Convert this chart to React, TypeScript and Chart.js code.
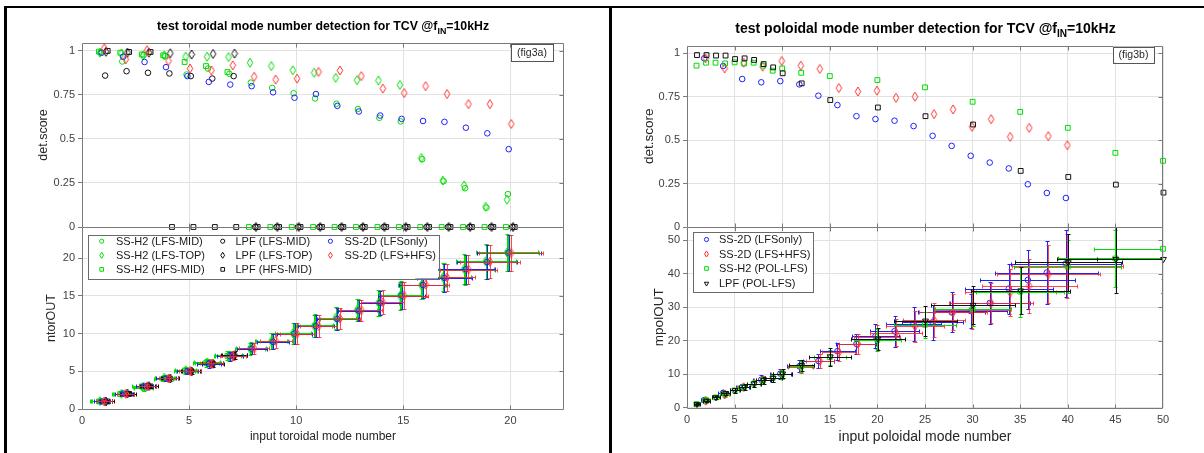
import React, { useEffect, useRef } from "react";
import { Chart, registerables } from "chart.js";

Chart.register(...registerables);

const FONT = '"Liberation Sans", Arial, Helvetica, sans-serif';
const GREEN = "#00dd00";
const BLUE = "#1f1fff";
const RED = "#ff3030";
const BLACK = "#111111";
const GRID = "#e2e2e2";
const AXIS = "#7a7a7a";
const TICKTXT = "#404040";

// ================= fig3a : toroidal =================
const torTitleMain = "test toroidal mode number detection for TCV @f";
const torTitleSub = "IN";
const torTitleTail = "=10kHz";
const torTag = "(fig3a)";
const torXLabel = "input toroidal mode number";
const torYLabelTop = "det.score";
const torYLabelBottom = "ntorOUT";

const torModes = [1, 2, 3, 4, 5, 6, 7, 8, 9, 10, 11, 12, 13, 14, 15, 16, 17, 18, 19, 20];
const torXTicks = [0, 5, 10, 15, 20];
const scoreTicks = [0, 0.25, 0.5, 0.75, 1];
const ntorTicks = [0, 5, 10, 15, 20];

// detection score
const torScoreSSH2LfsMid = [0.99, 0.94, 0.975, 0.97, 0.866, 0.9, 0.87, 0.82, 0.79, 0.76, 0.73, 0.7, 0.67, 0.62, 0.6, 0.385, 0.26, 0.22, 0.11, 0.187];
const torScoreSSH2LfsTop = [0.99, 0.985, 0.975, 0.975, 0.967, 0.967, 0.965, 0.933, 0.914, 0.89, 0.876, 0.847, 0.834, 0.832, 0.807, 0.392, 0.264, 0.235, 0.115, 0.155];
const torScoreSSH2HfsMid = [0.996, 0.99, 0.98, 0.975, 0.937, 0.914, 0.88, 0, 0, 0, 0, 0, 0, 0, 0, 0, 0, 0, 0, 0];
const torScoreLpfLfsMid = [0.86, 0.885, 0.876, 0.872, 0.857, 0.843, 0.857, 0, 0, 0, 0, 0, 0, 0, 0, 0, 0, 0, 0, 0];
const torScoreLpfLfsTop = [0.995, 0.99, 0.99, 0.987, 0.98, 0.983, 0.985, 0, 0, 0, 0, 0, 0, 0, 0, 0, 0, 0, 0, 0];
const torScoreLpfHfsMid = [1.0, 0.994, 0.994, 0, 0, 0, 0, 0, 0, 0, 0, 0, 0, 0, 0, 0, 0, 0, 0, 0];
const torScoreSS2DLfs = [0.99, 0.967, 0.937, 0.908, 0.857, 0.824, 0.809, 0.8, 0.765, 0.734, 0.755, 0.688, 0.656, 0.633, 0.614, 0.602, 0.597, 0.564, 0.532, 0.442];
const torScoreSS2DLfsHfs = [1.015, 0.952, 1.004, 0.943, 0.9, 0.889, 0.918, 0.853, 0.837, 0.843, 0.881, 0.889, 0.857, 0.786, 0.761, 0.8, 0.755, 0.698, 0.698, 0.585];

// detected ntor (null = not detected)
const torOutSSH2LfsMid = [1.0, 2.05, 2.75, 4.1, 5.1, 6.15, 7.0, 8.05, 9.0, 10.0, 11.1, 12.0, 13.1, 14.05, 15.1, 16.5, 17.45, 18.5, 19.55, 20.7];
const torOutSSH2LfsTop = [1.05, 2.0, 2.95, 4.15, 5.15, 6.2, 7.1, 8.0, 9.0, 10.05, 11.0, 12.1, 13.15, 14.1, 15.0, 16.4, 17.5, 18.6, 19.6, 20.8];
const torOutSSH2HfsMid = [1.0, 2.0, 3.0, 4.0, 5.1, 6.1, 7.05, null, null, null, null, null, null, null, null, null, null, null, null, null];
const torOutLpfLfsMid = [1.0, 2.0, 3.05, 4.05, 5.05, 6.05, 7.1, null, null, null, null, null, null, null, null, null, null, null, null, null];
const torOutLpfLfsTop = [1.0, 2.05, 3.05, 4.05, 5.0, 6.0, 7.15, null, null, null, null, null, null, null, null, null, null, null, null, null];
const torOutLpfHfsMid = [1.0, 2.0, 3.0, null, null, null, null, null, null, null, null, null, null, null, null, null, null, null, null, null];
const torOutSS2DLfs = [1.0, 2.05, 3.05, 4.05, 5.0, 6.0, 7.0, 8.0, 8.9, 10.0, 11.0, 11.95, 13.05, 14.1, 15.05, 16.45, 17.4, 18.55, 19.5, 20.75];
const torOutSS2DLfsHfs = [1.0, 2.0, 3.0, 4.05, 5.05, 6.05, 7.05, 8.05, 9.05, 10.0, 11.0, 12.0, 13.1, 14.15, 15.05, 16.5, 17.45, 18.5, 19.55, 20.7];

// error bar half widths
const torXErrSSH2 = [0.4, 0.4, 0.45, 0.45, 0.5, 0.6, 0.65, 0.7, 0.75, 0.85, 0.85, 0.95, 0.95, 0.95, 1.0, 1.1, 1.3, 1.4, 1.4, 1.45];
const torYErrSSH2 = [0.2, 0.25, 0.35, 0.35, 0.4, 0.5, 0.6, 0.8, 1.1, 1.4, 1.5, 1.5, 1.45, 1.7, 1.85, 1.85, 1.9, 2.0, 2.3, 2.45];
const torXErrLpf = [0.3, 0.3, 0.35, 0.4, 0.45, 0.5, 0.6];
const torYErrLpf = [0.15, 0.2, 0.25, 0.3, 0.35, 0.4, 0.5];
const torXErrSS2D = [0.35, 0.4, 0.4, 0.45, 0.5, 0.55, 0.6, 0.7, 0.75, 0.8, 0.85, 0.95, 0.95, 1.0, 1.1, 1.1, 1.3, 1.35, 1.4, 1.5];
const torYErrSS2D = [0.2, 0.25, 0.3, 0.35, 0.4, 0.5, 0.6, 0.75, 1.0, 1.35, 1.45, 1.45, 1.4, 1.6, 1.75, 1.7, 1.85, 1.95, 2.2, 2.4];

// ================= fig3b : poloidal =================
const polTitleMain = "test poloidal mode number detection for TCV @f";
const polTitleSub = "IN";
const polTitleTail = "=10kHz";
const polTag = "(fig3b)";
const polXLabel = "input poloidal mode number";
const polYLabelTop = "det.score";
const polYLabelBottom = "mpolOUT";

const polModesEven = [2, 4, 6, 8, 10, 12, 14, 16, 18, 20, 22, 24, 26, 28, 30, 32, 34, 36, 38, 40];
const polModesSel = [1, 2, 3, 4, 5, 6, 7, 8, 9, 10, 12, 15, 20, 25, 30, 35, 40, 45, 50];
const polXTicks = [0, 5, 10, 15, 20, 25, 30, 35, 40, 45, 50];
const mpolTicks = [0, 10, 20, 30, 40, 50];

const polScoreSS2DLfs = [0.971, 0.927, 0.852, 0.833, 0.84, 0.821, 0.756, 0.702, 0.638, 0.621, 0.612, 0.581, 0.525, 0.467, 0.41, 0.371, 0.337, 0.246, 0.196, 0.167];
const polScoreSS2DLfsHfs = [0.971, 0.913, 0.946, 0.923, 0.956, 0.929, 0.91, 0.8, 0.78, 0.785, 0.744, 0.75, 0.65, 0.677, 0.577, 0.621, 0.519, 0.571, 0.523, 0.471];
const polScoreSSH2PolLfs = [0.929, 0.946, 0.946, 0.942, 0.948, 0.942, 0.946, 0.929, 0.9, 0.913, 0.888, 0.869, 0.846, 0.804, 0.721, 0.663, 0.571, 0.427, 0.381];
const polScoreLpfPolLfs = [0.99, 0.99, 0.987, 0.987, 0.967, 0.971, 0.962, 0.938, 0.919, 0.885, 0.827, 0.731, 0.688, 0.638, 0.59, 0.323, 0.288, 0.244, 0.198];

const polOutSS2DLfs = [2.2, 4.4, 6.1, 8.3, 10.1, 12.3, 13.9, 16.8, 19.0, 21.3, 22.8, 25.0, 25.4, 28.4, 28.8, 31.2, 35.5, 38.1, 40.3, 43.0];
const polOutSS2DLfsHfs = [2.0, 3.9, 6.1, 8.1, 10.1, 12.1, 13.9, 16.5, 19.0, 21.0, 22.3, 24.3, 26.1, 28.4, 29.2, 31.2, 34.4, 36.3, 39.8, 42.3];
const polOutSSH2PolLfs = [1.0, 2.2, 3.0, 4.1, 5.1, 6.1, 7.1, 8.1, 8.8, 9.9, 12.3, 15.0, 20.2, 24.7, 29.4, 34.6, 42.1, 44.5, 47.4];
const polOutLpfPolLfs = [1.0, 2.0, 3.0, 4.2, 5.1, 6.1, 7.1, 8.1, 8.8, 10.1, 12.6, 15.2, 20.5, 25.9, 30.6, 34.9, 43.3, 44.3, 44.3];

const polXErrSS2DLfs = [0.3, 0.5, 0.7, 0.9, 1.1, 1.3, 1.6, 1.8, 2.1, 2.5, 2.6, 2.9, 3.2, 3.5, 3.8, 4.2, 4.6, 5.0, 5.4, 5.8];
const polYErrSS2DLfs = [0.5, 0.8, 1.0, 1.3, 1.5, 1.8, 2.2, 2.6, 3.0, 3.6, 4.6, 5.0, 5.2, 6.0, 5.0, 6.3, 7.5, 8.8, 9.4, 10.0];
const polXErrSS2DLfsHfs = [0.3, 0.5, 0.7, 0.9, 1.1, 1.3, 1.5, 1.8, 2.0, 2.4, 2.7, 3.0, 3.3, 3.6, 4.0, 4.4, 4.8, 5.0, 5.4, 5.8];
const polYErrSS2DLfsHfs = [0.5, 0.8, 1.0, 1.2, 1.5, 1.8, 2.1, 2.5, 3.0, 3.5, 4.0, 4.6, 5.0, 5.4, 5.8, 6.0, 7.0, 8.0, 8.6, 9.6];
const polXErrSSH2PolLfs = [0.3, 0.4, 0.4, 0.5, 0.5, 0.6, 0.7, 0.8, 0.9, 1.0, 1.3, 1.7, 2.5, 3.3, 4.0, 4.6, 5.6, 6.0, 7.2];
const polYErrSSH2PolLfs = [0.5, 0.5, 0.6, 0.7, 0.8, 0.9, 1.0, 1.1, 1.2, 1.4, 1.6, 2.3, 3.2, 3.8, 5.0, 7.5, 8.0, 8.5, 9.0];
const polXErrLpfPolLfs = [0.3, 0.4, 0.4, 0.5, 0.5, 0.6, 0.7, 0.8, 0.9, 1.0, 1.3, 2.2, 2.8, 3.3, 4.4, 5.2, 5.6, 6.2, 7.0];
const polYErrLpfPolLfs = [0.4, 0.5, 0.5, 0.6, 0.7, 0.8, 0.9, 1.0, 1.1, 1.3, 1.6, 2.7, 3.3, 4.5, 5.6, 7.0, 8.6, 10.0, 10.0];

// ================= helpers =================
type Shape = "circle" | "diamond" | "square" | "triangleDown";

interface SeriesCfg {
  label: string;
  color: string;
  errColor?: string;
  shape: Shape;
  x: number[];
  dx: number;
  y: (number | null)[];
  xErr?: number[];
  yErr?: number[];
}

const diamondCache = new Map<string, HTMLCanvasElement>();
function diamondImage(color: string): HTMLCanvasElement {
  let c = diamondCache.get(color);
  if (!c) {
    c = document.createElement("canvas");
    c.width = 8;
    c.height = 11;
    const g = c.getContext("2d")!;
    g.strokeStyle = color;
    g.lineWidth = 1;
    g.beginPath();
    g.moveTo(4, 1);
    g.lineTo(6.8, 5.5);
    g.lineTo(4, 10);
    g.lineTo(1.2, 5.5);
    g.closePath();
    g.stroke();
    diamondCache.set(color, c);
  }
  return c;
}

function pointProps(shape: Shape, color: string): any {
  switch (shape) {
    case "circle":
      return { pointStyle: "circle", pointRadius: 2.8 };
    case "square":
      return { pointStyle: "rect", pointRadius: 3.4 };
    case "triangleDown":
      return { pointStyle: "triangle", pointRadius: 3.4, pointRotation: 180 };
    default:
      return { pointStyle: diamondImage(color), pointRadius: 4 };
  }
}

function drawMarker(ctx: CanvasRenderingContext2D, shape: Shape, color: string, x: number, y: number, s: number) {
  ctx.save();
  ctx.strokeStyle = color;
  ctx.lineWidth = 1;
  ctx.beginPath();
  if (shape === "circle") ctx.arc(x, y, 2.6 * s, 0, Math.PI * 2);
  else if (shape === "square") {
    const h = 2.3 * s;
    ctx.rect(x - h, y - h, 2 * h, 2 * h);
  } else if (shape === "diamond") {
    const w = 2.4 * s, h = 3.8 * s;
    ctx.moveTo(x, y - h);
    ctx.lineTo(x + w, y);
    ctx.lineTo(x, y + h);
    ctx.lineTo(x - w, y);
    ctx.closePath();
  } else {
    const r = 3.2 * s;
    ctx.moveTo(x, y + r);
    ctx.lineTo(x - r * 0.866, y - r * 0.5);
    ctx.lineTo(x + r * 0.866, y - r * 0.5);
    ctx.closePath();
  }
  ctx.stroke();
  ctx.restore();
}

interface Rect { left: number; top: number; right: number; bottom: number; }
interface LegendItem { label: string; color: string; shape: Shape; mx: number; tx: number; y: number; }
interface SubplotCfg {
  width: number;
  height: number;
  area: Rect;
  xMin: number; xMax: number; xTicks: number[];
  showXLabels: boolean; xTitle?: string; xTickPad?: number; xTitleCenterY?: number; xTitleSize?: number;
  yMin: number; yMax: number; yTicks: number[]; yTitle: string; yTitleX: number; yTitleSize: number;
  series: SeriesCfg[];
  legend?: { box: Rect; items: LegendItem[] };
  tag?: { text: string; box: Rect };
  title?: { main: string; sub: string; tail: string; cx: number; cy: number; size: number };
}

const px = (v: number) => Math.round(v) + 0.5;

function createSubplot(canvas: HTMLCanvasElement, cfg: SubplotCfg): Chart {
  const n = cfg.series.length;
  const datasets: any[] = cfg.series.map((s, i) => {
    const pts: any[] = [];
    s.x.forEach((xv, j) => {
      const yv = s.y[j];
      if (yv === null || yv === undefined) return;
      pts.push({ x: xv + s.dx, y: yv, ex: s.xErr ? s.xErr[j] : 0, ey: s.yErr ? s.yErr[j] : 0 });
    });
    return {
      label: s.label,
      data: pts,
      showLine: false,
      clip: 5,
      order: n - i,
      borderColor: s.color,
      backgroundColor: "rgba(0,0,0,0)",
      pointBorderColor: s.color,
      pointBackgroundColor: "rgba(0,0,0,0)",
      pointBorderWidth: 1,
      ...pointProps(s.shape, s.color),
      errColor: s.xErr ? s.errColor || s.color : null,
    };
  });

  const yHalf = (cfg.yTitleSize * 1.2) / 2;
  const padLeft = cfg.yTitleX - yHalf;
  const yW = cfg.area.left - padLeft;
  const xH = cfg.showXLabels ? cfg.height - cfg.area.bottom : 0;
  const xTitleSize = cfg.xTitleSize ?? 12;
  const xTitlePad = cfg.showXLabels ? cfg.height - (cfg.xTitleCenterY ?? 437) - (xTitleSize * 1.2) / 2 : 0;

  const decor = {
    id: "decor",
    beforeDatasetDraw(chart: any, args: any) {
      const ds = chart.data.datasets[args.index];
      if (!ds.errColor) return;
      const xs = chart.scales.x, ys = chart.scales.y, ctx = chart.ctx, a = chart.chartArea;
      const cap = 2;
      ctx.save();
      ctx.beginPath();
      ctx.rect(a.left, a.top, a.right - a.left, a.bottom - a.top);
      ctx.clip();
      ctx.strokeStyle = ds.errColor;
      ctx.lineWidth = 1;
      ctx.beginPath();
      for (const p of ds.data) {
        const cx = px(xs.getPixelForValue(p.x)), cy = px(ys.getPixelForValue(p.y));
        if (p.ex > 0) {
          const x0 = px(xs.getPixelForValue(p.x - p.ex)), x1 = px(xs.getPixelForValue(p.x + p.ex));
          ctx.moveTo(x0, cy); ctx.lineTo(x1, cy);
          ctx.moveTo(x0, cy - cap); ctx.lineTo(x0, cy + cap);
          ctx.moveTo(x1, cy - cap); ctx.lineTo(x1, cy + cap);
        }
        if (p.ey > 0) {
          const y0 = px(ys.getPixelForValue(p.y - p.ey)), y1 = px(ys.getPixelForValue(p.y + p.ey));
          ctx.moveTo(cx, y0); ctx.lineTo(cx, y1);
          ctx.moveTo(cx - cap, y0); ctx.lineTo(cx + cap, y0);
          ctx.moveTo(cx - cap, y1); ctx.lineTo(cx + cap, y1);
        }
      }
      ctx.stroke();
      ctx.restore();
    },
    afterDraw(chart: any) {
      const ctx: CanvasRenderingContext2D = chart.ctx;
      const a = chart.chartArea;
      const xs = chart.scales.x, ys = chart.scales.y;
      const L = px(a.left), R = px(a.right) - 1, T = px(a.top), B = px(a.bottom);
      ctx.save();
      // axes box + inner ticks
      ctx.strokeStyle = AXIS;
      ctx.lineWidth = 1;
      ctx.beginPath();
      ctx.rect(L, T, R - L, B - T);
      for (const v of cfg.xTicks) {
        const x = px(xs.getPixelForValue(v));
        if (x <= L + 1 || x >= R - 1) continue;
        ctx.moveTo(x, B); ctx.lineTo(x, B - 4);
        ctx.moveTo(x, T); ctx.lineTo(x, T + 4);
      }
      for (const v of cfg.yTicks) {
        const y = px(ys.getPixelForValue(v));
        if (y <= T + 1 || y >= B - 1) continue;
        ctx.moveTo(R, y); ctx.lineTo(R - 4, y);
      }
      ctx.stroke();

      // tag box
      if (cfg.tag) {
        const b = cfg.tag.box;
        ctx.fillStyle = "#ffffff";
        ctx.fillRect(b.left, b.top, b.right - b.left, b.bottom - b.top);
        ctx.strokeStyle = "#555555";
        ctx.strokeRect(px(b.left), px(b.top), Math.round(b.right - b.left), Math.round(b.bottom - b.top));
        ctx.fillStyle = "#262626";
        ctx.font = `10.5px ${FONT}`;
        ctx.textAlign = "center";
        ctx.textBaseline = "middle";
        ctx.fillText(cfg.tag.text, (b.left + b.right) / 2, (b.top + b.bottom) / 2 + 0.5);
      }

      // legend
      if (cfg.legend) {
        const b = cfg.legend.box;
        ctx.fillStyle = "#ffffff";
        ctx.fillRect(b.left, b.top, b.right - b.left, b.bottom - b.top);
        ctx.strokeStyle = "#6a6a6a";
        ctx.strokeRect(px(b.left), px(b.top), Math.round(b.right - b.left), Math.round(b.bottom - b.top));
        ctx.font = `11px ${FONT}`;
        ctx.textAlign = "left";
        ctx.textBaseline = "middle";
        for (const it of cfg.legend.items) {
          drawMarker(ctx, it.shape, it.color, it.mx, it.y, 0.8);
          ctx.fillStyle = "#1a1a1a";
          ctx.fillText(it.label, it.tx, it.y + 0.5);
        }
      }

      // title with subscript
      if (cfg.title) {
        const t = cfg.title;
        const fMain = `bold ${t.size}px ${FONT}`;
        const fSub = `bold ${t.size * 0.72}px ${FONT}`;
        ctx.font = fMain;
        const w1 = ctx.measureText(t.main).width;
        const w3 = ctx.measureText(t.tail).width;
        ctx.font = fSub;
        const w2 = ctx.measureText(t.sub).width;
        let x = t.cx - (w1 + w2 + w3) / 2;
        const base = t.cy + t.size * 0.36;
        ctx.fillStyle = "#000000";
        ctx.textAlign = "left";
        ctx.textBaseline = "alphabetic";
        ctx.font = fMain;
        ctx.fillText(t.main, x, base);
        x += w1;
        ctx.font = fSub;
        ctx.fillText(t.sub, x, base + t.size * 0.3);
        x += w2;
        ctx.font = fMain;
        ctx.fillText(t.tail, x, base);
      }
      ctx.restore();
    },
  };

  return new Chart(canvas, {
    type: "scatter",
    data: { datasets },
    options: {
      animation: false,
      responsive: false,
      events: [],
      layout: {
        padding: {
          left: padLeft,
          top: cfg.area.top,
          right: cfg.width - cfg.area.right,
          bottom: cfg.showXLabels ? 0 : cfg.height - cfg.area.bottom,
        },
      },
      plugins: {
        legend: { display: false },
        tooltip: { enabled: false },
        title: { display: false },
      },
      scales: {
        x: {
          type: "linear",
          min: cfg.xMin,
          max: cfg.xMax,
          afterBuildTicks: (s: any) => {
            s.ticks = cfg.xTicks.map((v) => ({ value: v }));
          },
          afterFit: (s: any) => {
            s.height = xH;
          },
          grid: { color: GRID, drawTicks: false, lineWidth: 1 },
          border: { display: false },
          ticks: {
            display: cfg.showXLabels,
            padding: cfg.xTickPad ?? 5,
            color: TICKTXT,
            font: { family: FONT, size: 11 },
            autoSkip: false,
            maxRotation: 0,
            callback: (v: any) => String(v),
          },
          title: {
            display: !!cfg.xTitle,
            text: cfg.xTitle || "",
            color: "#262626",
            font: { family: FONT, size: xTitleSize },
            padding: { top: 0, bottom: xTitlePad },
          },
        },
        y: {
          type: "linear",
          min: cfg.yMin,
          max: cfg.yMax,
          afterBuildTicks: (s: any) => {
            s.ticks = cfg.yTicks.map((v) => ({ value: v }));
          },
          afterFit: (s: any) => {
            s.width = yW;
          },
          grid: { color: GRID, drawTicks: true, tickLength: 4, tickColor: AXIS, lineWidth: 1 },
          border: { display: false },
          ticks: {
            padding: 3,
            color: TICKTXT,
            font: { family: FONT, size: 11 },
            autoSkip: false,
            callback: (v: any) => String(v),
          },
          title: {
            display: true,
            text: cfg.yTitle,
            color: "#262626",
            font: { family: FONT, size: cfg.yTitleSize },
            padding: 0,
          },
        },
      },
    } as any,
    plugins: [decor as any],
  });
}

// ================= panel configuration =================
const LW = 609;
const RW = 592;
const H = 453;

const torSeries = (top: boolean): SeriesCfg[] => [
  { label: "SS-H2 (LFS-MID)", color: GREEN, shape: "circle", x: torModes, dx: -0.12, y: top ? torScoreSSH2LfsMid : torOutSSH2LfsMid, xErr: top ? undefined : torXErrSSH2, yErr: top ? undefined : torYErrSSH2 },
  { label: "SS-H2 (LFS-TOP)", color: GREEN, shape: "diamond", x: torModes, dx: -0.16, y: top ? torScoreSSH2LfsTop : torOutSSH2LfsTop, xErr: top ? undefined : torXErrSSH2, yErr: top ? undefined : torYErrSSH2 },
  { label: "SS-H2 (HFS-MID)", color: GREEN, shape: "square", x: torModes, dx: -0.21, y: top ? torScoreSSH2HfsMid : torOutSSH2HfsMid, xErr: top ? undefined : torXErrSSH2, yErr: top ? undefined : torYErrSSH2 },
  { label: "LPF (LFS-MID)", color: BLACK, shape: "circle", x: torModes, dx: 0.08, y: top ? torScoreLpfLfsMid : torOutLpfLfsMid, xErr: top ? undefined : torXErrLpf, yErr: top ? undefined : torYErrLpf },
  { label: "LPF (LFS-TOP)", color: BLACK, shape: "diamond", x: torModes, dx: 0.12, y: top ? torScoreLpfLfsTop : torOutLpfLfsTop, xErr: top ? undefined : torXErrLpf, yErr: top ? undefined : torYErrLpf },
  { label: "LPF (HFS-MID)", color: BLACK, shape: "square", x: torModes, dx: 0.2, y: top ? torScoreLpfHfsMid : torOutLpfHfsMid, xErr: top ? undefined : torXErrLpf, yErr: top ? undefined : torYErrLpf },
  { label: "SS-2D (LFSonly)", color: BLUE, shape: "circle", x: torModes, dx: -0.08, y: top ? torScoreSS2DLfs : torOutSS2DLfs, xErr: top ? undefined : torXErrSS2D, yErr: top ? undefined : torYErrSS2D },
  { label: "SS-2D (LFS+HFS)", color: RED, errColor: "rgba(255,40,40,0.85)", shape: "diamond", x: torModes, dx: 0.04, y: top ? torScoreSS2DLfsHfs : torOutSS2DLfsHfs, xErr: top ? undefined : torXErrSS2D, yErr: top ? undefined : torYErrSS2D },
];

const torLegendCols = [
  { mx: 101.7, tx: 116 },
  { mx: 222.7, tx: 235.5 },
  { mx: 330.4, tx: 344.5 },
];
const torLegendRows = [241.2, 255.3, 269.4];
const torLegendSlots = [[0, 0], [0, 1], [0, 2], [1, 0], [1, 1], [1, 2], [2, 0], [2, 1]];

const torTopCfg: SubplotCfg = {
  width: LW, height: H,
  area: { left: 82, top: 43, right: 564, bottom: 227 },
  xMin: 0, xMax: 22.5, xTicks: torXTicks, showXLabels: false,
  yMin: 0, yMax: 1.045, yTicks: scoreTicks, yTitle: torYLabelTop, yTitleX: 43.5, yTitleSize: 12.5,
  series: torSeries(true),
  tag: { text: torTag, box: { left: 511, top: 44, right: 553, bottom: 61 } },
  title: { main: torTitleMain, sub: torTitleSub, tail: torTitleTail, cx: 323, cy: 25.5, size: 12.3 },
};

const torBottomSeries = torSeries(false);
const torBottomCfg: SubplotCfg = {
  width: LW, height: H,
  area: { left: 82, top: 227, right: 564, bottom: 409 },
  xMin: 0, xMax: 22.5, xTicks: torXTicks, showXLabels: true, xTitle: torXLabel, xTickPad: 5, xTitleCenterY: 437, xTitleSize: 12,
  yMin: 0, yMax: 24.15, yTicks: ntorTicks, yTitle: torYLabelBottom, yTitleX: 52, yTitleSize: 12.5,
  series: torBottomSeries,
  legend: {
    box: { left: 87.5, top: 234.5, right: 438, bottom: 278.5 },
    items: torBottomSeries.map((s, i) => ({
      label: s.label, color: s.color, shape: s.shape,
      mx: torLegendCols[torLegendSlots[i][0]].mx,
      tx: torLegendCols[torLegendSlots[i][0]].tx,
      y: torLegendRows[torLegendSlots[i][1]],
    })),
  },
};

const polSeries = (top: boolean): SeriesCfg[] => [
  { label: "SS-2D (LFSonly)", color: BLUE, shape: "circle", x: polModesEven, dx: -0.2, y: top ? polScoreSS2DLfs : polOutSS2DLfs, xErr: top ? undefined : polXErrSS2DLfs, yErr: top ? undefined : polYErrSS2DLfs },
  { label: "SS-2D (LFS+HFS)", color: RED, errColor: "rgba(255,40,40,0.85)", shape: "diamond", x: polModesEven, dx: -0.05, y: top ? polScoreSS2DLfsHfs : polOutSS2DLfsHfs, xErr: top ? undefined : polXErrSS2DLfsHfs, yErr: top ? undefined : polYErrSS2DLfsHfs },
  { label: "SS-H2 (POL-LFS)", color: GREEN, shape: "square", x: polModesSel, dx: 0, y: top ? polScoreSSH2PolLfs : polOutSSH2PolLfs, xErr: top ? undefined : polXErrSSH2PolLfs, yErr: top ? undefined : polYErrSSH2PolLfs },
  { label: "LPF (POL-LFS)", color: BLACK, shape: top ? "square" : "triangleDown", x: polModesSel, dx: 0.05, y: top ? polScoreLpfPolLfs : polOutLpfPolLfs, xErr: top ? undefined : polXErrLpfPolLfs, yErr: top ? undefined : polYErrLpfPolLfs },
];

const polLegendRows = [239.5, 254, 268.5, 283.5];

const polTopCfg: SubplotCfg = {
  width: RW, height: H,
  area: { left: 75, top: 45.5, right: 551, bottom: 227 },
  xMin: 0, xMax: 50, xTicks: polXTicks, showXLabels: false,
  yMin: 0, yMax: 1.045, yTicks: scoreTicks, yTitle: polYLabelTop, yTitleX: 37, yTitleSize: 13.5,
  series: polSeries(true),
  tag: { text: polTag, box: { left: 501, top: 46.5, right: 542, bottom: 62 } },
  title: { main: polTitleMain, sub: polTitleSub, tail: polTitleTail, cx: 313.5, cy: 28, size: 14 },
};

const polBottomSeries = polSeries(false);
const polBottomCfg: SubplotCfg = {
  width: RW, height: H,
  area: { left: 75, top: 227, right: 551, bottom: 407.5 },
  xMin: 0, xMax: 50, xTicks: polXTicks, showXLabels: true, xTitle: polXLabel, xTickPad: 5.6, xTitleCenterY: 437, xTitleSize: 14,
  yMin: 0, yMax: 53.9, yTicks: mpolTicks, yTitle: polYLabelBottom, yTitleX: 47, yTitleSize: 13.5,
  series: polBottomSeries,
  legend: {
    box: { left: 81, top: 231.5, right: 201.3, bottom: 291.5 },
    items: polBottomSeries.map((s, i) => ({
      label: s.label, color: s.color, shape: s.shape, mx: 94.5, tx: 107, y: polLegendRows[i],
    })),
  },
};

export default function App() {
  const c1 = useRef<HTMLCanvasElement>(null);
  const c2 = useRef<HTMLCanvasElement>(null);
  const c3 = useRef<HTMLCanvasElement>(null);
  const c4 = useRef<HTMLCanvasElement>(null);

  useEffect(() => {
    const charts = [
      createSubplot(c1.current!, torTopCfg),
      createSubplot(c2.current!, torBottomCfg),
      createSubplot(c3.current!, polTopCfg),
      createSubplot(c4.current!, polBottomCfg),
    ];
    return () => charts.forEach((ch) => ch.destroy());
  }, []);

  const abs = (l: number, t: number, w: number, h: number, extra: any = {}) => ({
    position: "absolute" as const, left: l, top: t, width: w, height: h, ...extra,
  });

  return (
    <div style={{ position: "fixed", left: 0, top: 0, width: 1204, height: 453, background: "#ffffff", overflow: "hidden" }}>
      <canvas ref={c1} width={LW} height={H} style={abs(0, 0, LW, H)} />
      <canvas ref={c2} width={LW} height={H} style={abs(0, 0, LW, H)} />
      <canvas ref={c3} width={RW} height={H} style={abs(612, 0, RW, H)} />
      <canvas ref={c4} width={RW} height={H} style={abs(612, 0, RW, H)} />
      <div style={abs(4, 6, 1200, 2, { background: "#000" })} />
      <div style={abs(4, 6, 3, 447, { background: "#000" })} />
      <div style={abs(609, 6, 3, 447, { background: "#000" })} />
    </div>
  );
}
